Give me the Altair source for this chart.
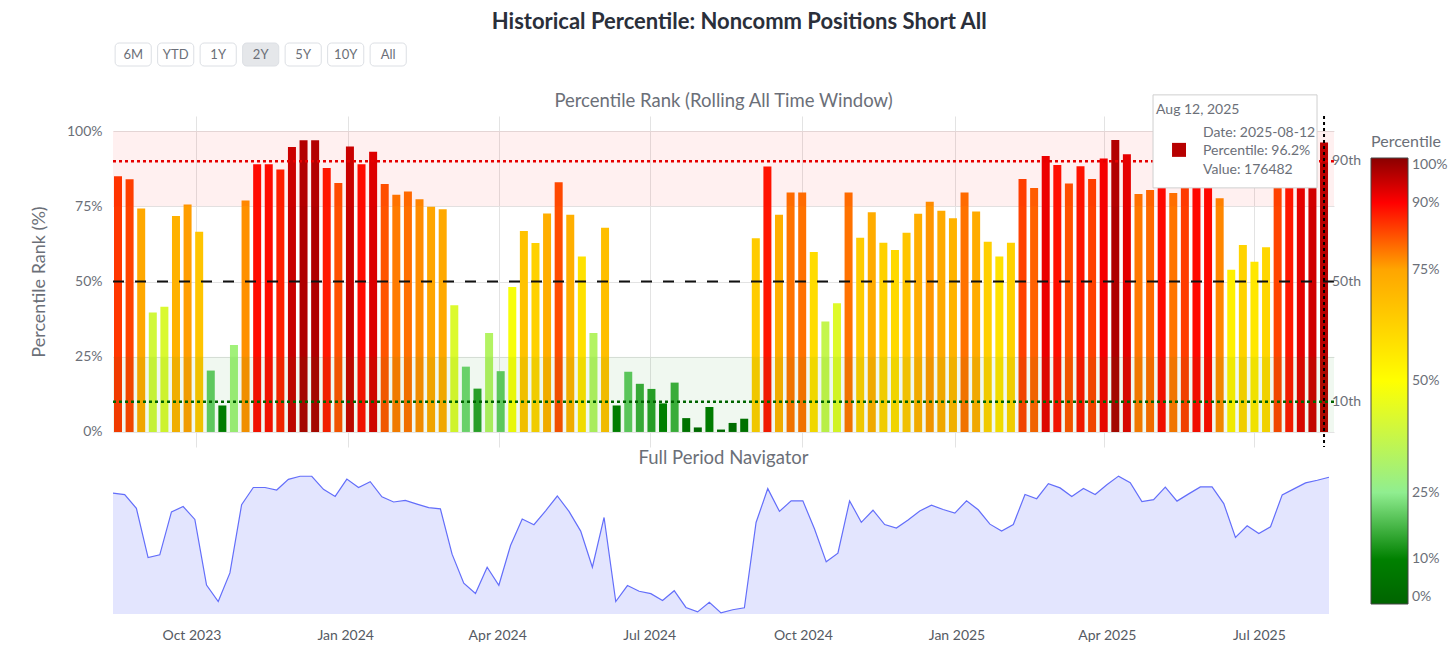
import altair as alt
import pandas as pd

# ---------------- data ----------------
START_DATE = "2023-08-15"          # first weekly report in view (Tuesdays)
PERCENTILES = [
    85.0, 84.0, 74.3, 39.7, 41.6, 71.8, 75.6, 66.5, 20.4, 8.8,
    28.9, 76.9, 89.0, 89.0, 87.2, 94.7, 96.9, 96.9, 87.7, 82.7,
    94.9, 89.0, 93.1, 82.4, 78.8, 79.9, 77.3, 74.8, 74.0, 42.1,
    21.7, 14.4, 32.9, 20.2, 48.2, 66.8, 62.8, 72.6, 83.0, 72.2,
    58.3, 32.9, 67.9, 8.8, 20.0, 16.0, 14.3, 9.5, 16.4, 4.6,
    1.5, 8.3, 0.8, 3.0, 4.4, 64.4, 88.2, 72.2, 79.6, 79.6,
    59.8, 36.7, 42.8, 79.6, 64.5, 73.0, 62.9, 60.5, 66.2, 72.5,
    76.5, 73.5, 71.0, 79.6, 73.3, 63.2, 58.3, 62.9, 84.1, 81.1,
    91.7, 88.7, 82.6, 88.3, 84.1, 90.9, 97.0, 92.3, 79.1, 80.4,
    89.2, 79.4, 84.5, 89.4, 89.4, 77.7, 53.9, 62.1, 56.6, 61.4,
    83.8, 88.0, 92.2, 94.1, 96.2,
]
LAST_RAW_VALUE = 176482

COLOR_STOPS = [0, 10, 25, 50, 75, 90, 100]
COLOR_RANGE = ["#006400", "#008000", "#90EE90", "#FFFF00", "#FFA500", "#FF0000", "#8B0000"]
LEGEND_VALUES = [0, 10, 25, 50, 75, 90, 100]
Y_TICKS = [0, 25, 50, 75, 100]
BUTTONS = ["6M", "YTD", "1Y", "2Y", "5Y", "10Y", "All"]
ACTIVE_BUTTON = "2Y"
REF_LABELS = ["90th", "50th", "10th"]
REF_VALUES = [90, 50, 10]

MAIN_TITLE = "Historical Percentile: Noncomm Positions Short All"
PANEL_TITLE = "Percentile Rank (Rolling All Time Window)"
NAV_TITLE = "Full Period Navigator"

dates = pd.date_range(START_DATE, periods=len(PERCENTILES), freq="7D")
df = pd.DataFrame({"date": dates.strftime("%Y-%m-%dT00:00:00"), "pct": PERCENTILES})

last_date = dates[-1]
hover = pd.DataFrame({
    "date": [last_date.strftime("%Y-%m-%dT00:00:00")],
    "pct": [PERCENTILES[-1]],
    "head": [last_date.strftime("%b %d, %Y")],
    "l1": ["Date: " + last_date.strftime("%Y-%m-%d")],
    "l2": [f"Percentile: {PERCENTILES[-1]:.1f}%"],
    "l3": [f"Value: {LAST_RAW_VALUE}"],
})

FONT = "Lato"
GRAY = "#6b6f78"
W = 1221

x_domain = [alt.DateTime(year=2023, month=8, date=15), alt.DateTime(year=2025, month=8, date=15)]
x_scale = alt.Scale(domain=x_domain)
color_scale = alt.Scale(domain=COLOR_STOPS, range=COLOR_RANGE, interpolate="rgb")

# ---------------- top panel ----------------
base = alt.Chart(df)

bars = base.mark_bar(size=8, clip=True).encode(
    x=alt.X("date:T", scale=x_scale,
            axis=alt.Axis(labels=False, ticks=False, domain=False, title=None,
                          grid=True, gridColor="#e3e3e3",
                          tickCount={"interval": "month", "step": 3})),
    y=alt.Y("pct:Q", scale=alt.Scale(domain=[-5, 105], nice=False, zero=False),
            axis=alt.Axis(values=Y_TICKS, labelExpr="datum.value + '%'",
                          title="Percentile Rank (%)", titleFontSize=18,
                          titleFontWeight="normal", titleColor=GRAY, titlePadding=18,
                          labelFontSize=14, labelColor=GRAY, labelPadding=11,
                          domain=False, ticks=False, grid=True, gridColor="#e3e3e3")),
    y2=alt.datum(0),
    color=alt.Color("pct:Q", scale=color_scale,
                    legend=alt.Legend(orient="none", legendX=1258, legendY=91,
                                      direction="vertical", title="Percentile",
                                      titleFontSize=16, titleFontWeight="normal",
                                      titleColor=GRAY, titlePadding=8,
                                      gradientLength=446, gradientThickness=37,
                                      gradientStrokeColor="#444", gradientStrokeWidth=1,
                                      values=LEGEND_VALUES, labelExpr="datum.value + '%'",
                                      labelFontSize=14, labelColor=GRAY, labelOffset=4)),
)

one = alt.Chart(pd.DataFrame({"a": [1]}))
band_hi = one.mark_rect(color="#ff0000", opacity=0.06).encode(y=alt.datum(75), y2=alt.datum(100))
band_lo = one.mark_rect(color="#008000", opacity=0.06).encode(y=alt.datum(0), y2=alt.datum(25))

rule90 = one.mark_rule(color="#e60000", strokeWidth=2.5, strokeDash=[3, 3]).encode(y=alt.datum(90))
rule50 = one.mark_rule(color="#111111", strokeWidth=2, strokeDash=[11, 11]).encode(y=alt.datum(50))
rule10 = one.mark_rule(color="#006400", strokeWidth=2.5, strokeDash=[3, 3]).encode(y=alt.datum(10))

ref_df = pd.DataFrame({"lab": REF_LABELS, "v": REF_VALUES})
ref_text = alt.Chart(ref_df).mark_text(align="left", baseline="middle", dx=3, fontSize=14,
                                       color=GRAY).encode(
    x=alt.datum(x_domain[1]), y="v:Q", text="lab:N")

hb = alt.Chart(hover)
spike = hb.mark_rule(color="#000000", strokeWidth=2, strokeDash=[3, 3]).encode(x="date:T")
tt_box = hb.mark_rect(fill="white", stroke="#cfcfcf", strokeWidth=1,
                      xOffset=-171, x2Offset=-7, yOffset=-47.6, y2Offset=45.4).encode(
    x="date:T", x2="date:T", y="pct:Q", y2="pct:Q")
tt_sq = hb.mark_square(size=196, opacity=1, xOffset=-145, yOffset=7.4).encode(
    x="date:T", y="pct:Q", color=alt.Color("pct:Q", scale=color_scale))
tt_head = hb.mark_text(align="left", baseline="middle", dx=-168, dy=-32.6, fontSize=14,
                       color=GRAY).encode(x="date:T", y="pct:Q", text="head:N")
tt_l1 = hb.mark_text(align="left", baseline="middle", dx=-121, dy=-9.6, fontSize=14,
                     color=GRAY).encode(x="date:T", y="pct:Q", text="l1:N")
tt_l2 = hb.mark_text(align="left", baseline="middle", dx=-121, dy=8.4, fontSize=14,
                     color=GRAY).encode(x="date:T", y="pct:Q", text="l2:N")
tt_l3 = hb.mark_text(align="left", baseline="middle", dx=-121, dy=27.4, fontSize=14,
                     color=GRAY).encode(x="date:T", y="pct:Q", text="l3:N")

top = alt.layer(
    bars, band_hi, band_lo, rule90, rule50, rule10, ref_text, spike,
    tt_box, tt_sq, tt_head, tt_l1, tt_l2, tt_l3,
).properties(width=W, height=331)

# ---------------- buttons panel (range selector + panel title) ----------------
btn_df = pd.DataFrame({"label": BUTTONS, "i": list(range(len(BUTTONS)))})
btn_df["active"] = btn_df["label"] == ACTIVE_BUTTON
bx = alt.Scale(domain=[0, W / 42.5], nice=False, zero=False)
bbase = alt.Chart(btn_df).transform_calculate(x1="datum.i + 0.05", x2="datum.i + 0.9",
                                              xm="datum.i + 0.475")
btn_rect = bbase.mark_rect(stroke="#dcdfe4", strokeWidth=1, cornerRadius=4).encode(
    x=alt.X("x1:Q", scale=bx, axis=None), x2="x2:Q",
    y=alt.value(0), y2=alt.value(23),
    fill=alt.condition("datum.active", alt.value("#e5e7ea"), alt.value("#ffffff")),
)
btn_text = bbase.mark_text(fontSize=13, color=GRAY, baseline="middle").encode(
    x=alt.X("xm:Q", scale=bx, axis=None), y=alt.value(11.5), text="label:N")
panel_title = alt.Chart(pd.DataFrame({"t": [PANEL_TITLE]})).mark_text(
    fontSize=18.5, color=GRAY, baseline="middle", align="center").encode(
    x=alt.value(W / 2), y=alt.value(58), text="t:N")
buttons = alt.layer(btn_rect, btn_text, panel_title).properties(width=W, height=51)

# ---------------- navigator ----------------
nbase = alt.Chart(df)
nx = alt.X("date:T", scale=x_scale,
           axis=alt.Axis(format="%b %Y", tickCount={"interval": "month", "step": 3},
                         grid=False, ticks=False, domain=False, title=None,
                         labelFontSize=14, labelColor="#555a63", labelPadding=14))
ny = alt.Y("pct:Q", scale=alt.Scale(domain=[0, 102], nice=False), axis=None)
nav_area = nbase.mark_area(color="#636efa", opacity=0.18).encode(x=nx, y=ny, y2=alt.datum(0))
nav_line = nbase.mark_line(color="#636efa", strokeWidth=1.2).encode(x=nx, y=ny)
nav = alt.layer(nav_area, nav_line).properties(
    width=W, height=145,
    title=alt.TitleParams(NAV_TITLE, fontSize=18.5, fontWeight="normal",
                          color=GRAY, anchor="middle", frame="group", offset=2),
)

chart = alt.vconcat(buttons, top, nav, spacing=22, bounds="flush").properties(
    title=alt.TitleParams(MAIN_TITLE, fontSize=22, fontWeight="bold", color="#2a2f3a",
                          anchor="middle", offset=9),
    padding={"left": 22, "top": 2, "right": 0, "bottom": 0},
).configure(
    font=FONT,
).configure_view(stroke=None)

chart.save("out.html", embed_options={"renderer": "svg", "actions": False})
